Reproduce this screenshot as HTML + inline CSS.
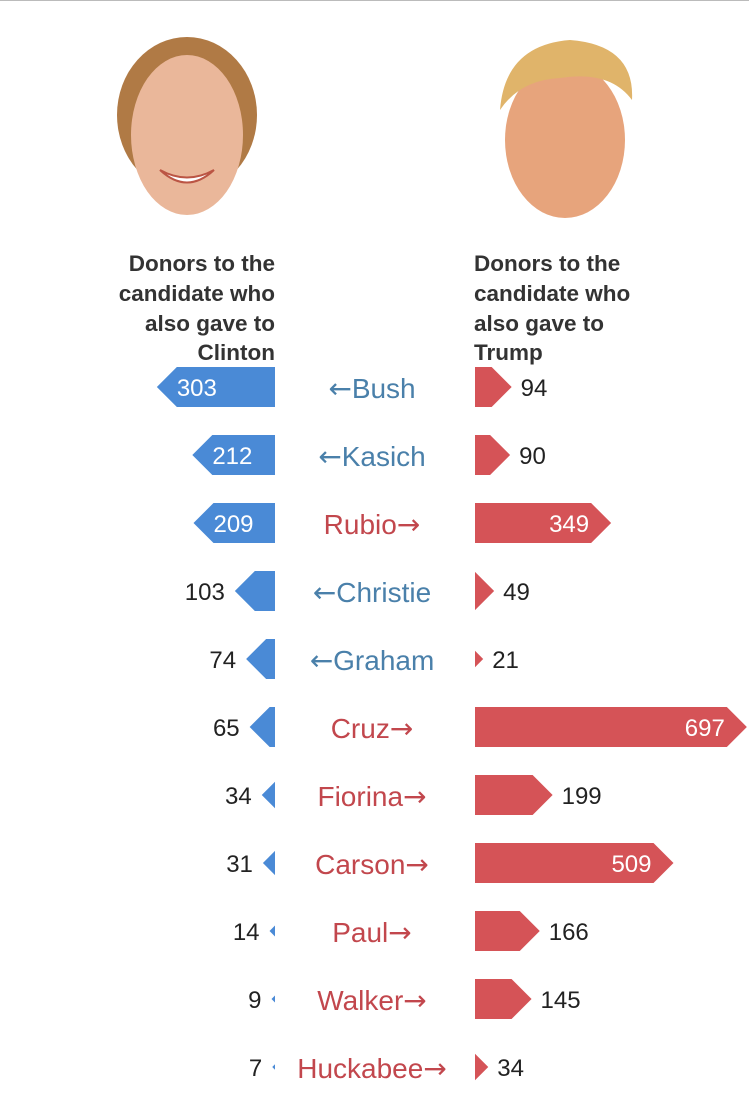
<!DOCTYPE html>
<html><head><meta charset="utf-8"><style>
body{margin:0;background:#fff;width:749px;height:1111px;overflow:hidden;font-family:"Liberation Sans",sans-serif}
</style></head><body>
<svg width="749" height="1111">
<line x1="0" y1="0.5" x2="749" y2="0.5" stroke="#bbb"/>
<g>
<ellipse cx="187" cy="115" rx="70" ry="78" fill="#b07a45"/>
<ellipse cx="187" cy="135" rx="56" ry="80" fill="#eab79a"/>
<path d="M160 170 Q187 195 214 170 Q187 185 160 170Z" fill="#fff" stroke="#b54" stroke-width="2"/>
</g>
<g>
<ellipse cx="565" cy="140" rx="60" ry="78" fill="#e7a47c"/>
<path d="M500 110 Q505 45 570 40 Q635 45 632 100 Q610 70 560 78 Q520 80 500 110Z" fill="#e0b46a"/>
</g>
<g font-weight="bold" font-size="22.5" fill="#333">
<text x="275" text-anchor="end"><tspan x="275" y="271">Donors to the</tspan><tspan x="275" y="301">candidate who</tspan><tspan x="275" y="331">also gave to</tspan><tspan x="275" y="360">Clinton</tspan></text>
<text x="474"><tspan x="474" y="271">Donors to the</tspan><tspan x="474" y="301">candidate who</tspan><tspan x="474" y="331">also gave to</tspan><tspan x="474" y="360">Trump</tspan></text>
</g>
<g id="rows"></g>
</svg>
<script>
const candidates=["Bush","Kasich","Rubio","Christie","Graham","Cruz","Fiorina","Carson","Paul","Walker","Huckabee"];
const clintonValues=[303,212,209,103,74,65,34,31,14,9,7];
const trumpValues=[94,90,349,49,21,697,199,509,166,145,34];
const leansClinton=[true,true,false,true,true,false,false,false,false,false,false];
const scale=v=>v*0.39;
const rowY=i=>387+i*68;
const NS="http://www.w3.org/2000/svg";
const g=document.getElementById('rows');
function mk(t,a){const e=document.createElementNS(NS,t);for(const k in a)e.setAttribute(k,a[k]);return e;}
candidates.forEach((c,i)=>{
  const cy=rowY(i);
  let L=scale(clintonValues[i]),t=Math.min(20,L),h=Math.min(20,t);
  const lp=mk('polygon',{points:`275,${cy-h} ${275-L+t},${cy-h} ${275-L},${cy} ${275-L+t},${cy+h} 275,${cy+h}`,fill:'#4a8ad6'});
  
  
  g.appendChild(lp);
  const inL=L>70;
  const lt=mk('text',{x:inL?275-L+t:275-L-10,y:cy+9,'font-size':24,fill:inL?'#fff':'#222','text-anchor':inL?'start':'end'});
  lt.textContent=clintonValues[i];
  
  
  g.appendChild(lt);
  let R=scale(trumpValues[i]),rt=Math.min(20,R),rh=Math.min(20,rt);
  const rp=mk('polygon',{points:`475,${cy-rh} ${475+R-rt},${cy-rh} ${475+R},${cy} ${475+R-rt},${cy+rh} 475,${cy+rh}`,fill:'#d55357'});
  
  
  g.appendChild(rp);
  const inR=R>100;
  const rtx=mk('text',{x:inR?475+R-rt-2:475+R+9,y:cy+9,'font-size':24,fill:inR?'#fff':'#222','text-anchor':inR?'end':'start'});
  rtx.textContent=trumpValues[i];
  
  
  g.appendChild(rtx);
  const col=leansClinton[i]?'#4a80aa':'#c2474d';
  const lab=mk('text',{x:372,y:cy+11,'font-size':28,'text-anchor':'middle',fill:col});
  const arrow=mk('tspan',{'font-family':'DejaVu Sans','font-size':28});
  arrow.textContent=leansClinton[i]?'\u2190':'\u2192';
  const nm=mk('tspan',{});
  nm.textContent=c;
  if(leansClinton[i]){lab.appendChild(arrow);lab.appendChild(nm);}else{lab.appendChild(nm);lab.appendChild(arrow);}
  
  
  g.appendChild(lab);
});
</script>
</body></html>
